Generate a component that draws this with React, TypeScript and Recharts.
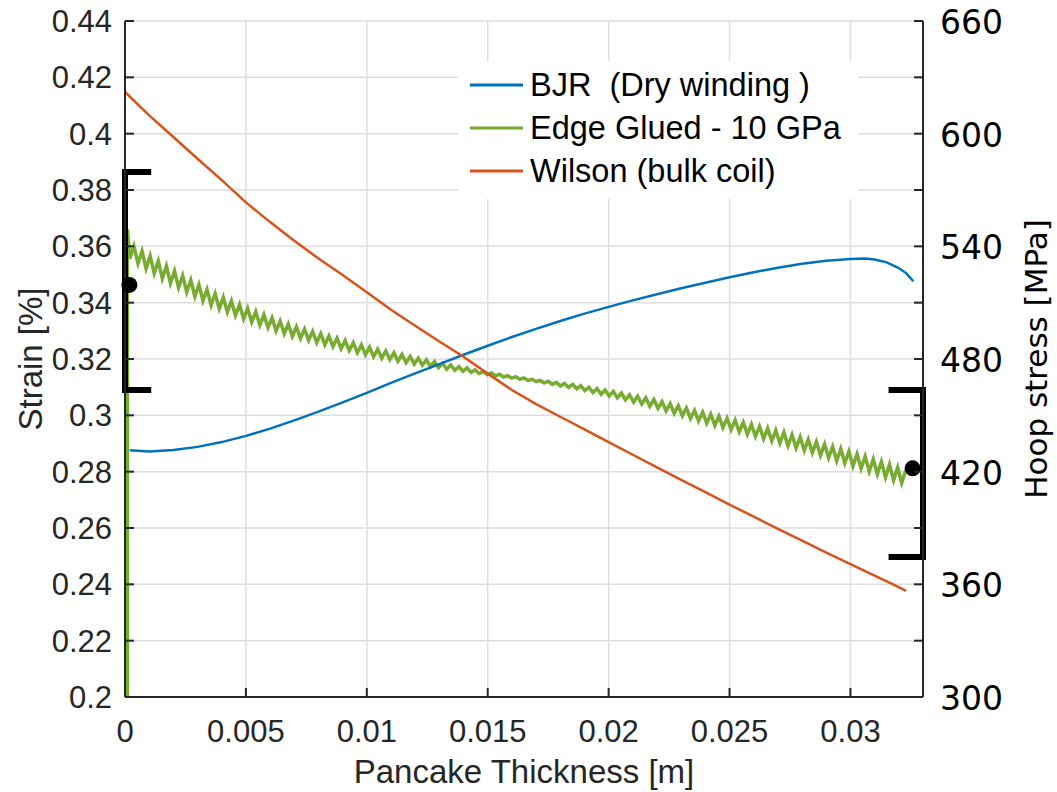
import {
  LineChart, Line, XAxis, YAxis, CartesianGrid, ReferenceLine, ReferenceDot, Legend,
} from 'recharts'

const SANS = '"Liberation Sans", Arial, sans-serif'
const DEJAVU = '"DejaVu Sans", Verdana, sans-serif'
const AXIS = '#262626'
const GRID = '#dedede'
const BLUE = '#0072BD'
const GREEN = '#77AC30'
const ORANGE = '#D95319'

// axes
const X_TICKS = [0, 0.005, 0.01, 0.015, 0.02, 0.025, 0.03]
const STRAIN_TICKS = [0.2, 0.22, 0.24, 0.26, 0.28, 0.3, 0.32, 0.34, 0.36, 0.38, 0.4, 0.42, 0.44]
const STRESS_TICKS = [300, 330, 360, 390, 420, 450, 480, 510, 540, 570, 600, 630, 660]
const STRESS_LABELS = [300, 360, 420, 480, 540, 600, 660]

// BJR (Dry winding)
const BJR_X = [
  0.0002, 0.001, 0.002, 0.003, 0.004, 0.005, 0.006, 0.007, 0.008, 0.009, 0.01,
  0.011, 0.012, 0.013, 0.014, 0.015, 0.016, 0.017, 0.018, 0.019, 0.02,
  0.021, 0.022, 0.023, 0.024, 0.025, 0.026, 0.027, 0.028, 0.029, 0.03,
  0.0306, 0.031, 0.0315, 0.032, 0.0323, 0.0326,
]
const BJR_Y = [
  0.2876, 0.2872, 0.2877, 0.2888, 0.2905, 0.2927, 0.2953, 0.2982, 0.3013, 0.3046, 0.308,
  0.3115, 0.3149, 0.3182, 0.3215, 0.3247, 0.3278, 0.3307, 0.3335, 0.3361, 0.3385,
  0.3408, 0.343, 0.3451, 0.3471, 0.349, 0.3508, 0.3524, 0.3538, 0.3549, 0.3555,
  0.3557, 0.3553, 0.3543, 0.3523, 0.3505, 0.3476,
]

// Wilson (bulk coil)
const WILSON_X = [
  0, 0.001, 0.002, 0.003, 0.004, 0.005, 0.006, 0.007, 0.008, 0.009, 0.01,
  0.011, 0.012, 0.013, 0.014, 0.015, 0.016, 0.017, 0.018, 0.019, 0.02,
  0.021, 0.022, 0.023, 0.024, 0.025, 0.026, 0.027, 0.028, 0.029, 0.03,
  0.031, 0.032, 0.0323,
]
const WILSON_Y = [
  0.4148, 0.4065, 0.3988, 0.3911, 0.3835, 0.3756, 0.3686, 0.362, 0.3557, 0.3498, 0.3437,
  0.3375, 0.3318, 0.3262, 0.3208, 0.3148, 0.309, 0.304, 0.2995, 0.295, 0.2905,
  0.286, 0.2815, 0.2771, 0.2727, 0.2683, 0.264, 0.2597, 0.2555, 0.2513, 0.2472,
  0.2431, 0.239, 0.2377,
]

// Edge Glued - 10 GPa: initial rise, then sampled every GLUED_STEP from GLUED_X0
const GLUED_RISE_X = 0.0001
const GLUED_RISE_Y = [0.2, 0.366]
const GLUED_X0 = 0.0002
const GLUED_STEP = 0.000168
const GLUED_Y = [
  0.3556, 0.3601, 0.3539, 0.3583, 0.3521, 0.3566, 0.3504, 0.3548, 0.3486, 0.353,
  0.3469, 0.3513, 0.3453, 0.3496, 0.3438, 0.348, 0.3422, 0.3464, 0.3407, 0.3447,
  0.3391, 0.3432, 0.3379, 0.3419, 0.3367, 0.3406, 0.3355, 0.3393, 0.3343, 0.338,
  0.3331, 0.3368, 0.3321, 0.3357, 0.3311, 0.3346, 0.33, 0.3335, 0.329, 0.3324,
  0.328, 0.3314, 0.3273, 0.3306, 0.3266, 0.3298, 0.3258, 0.329, 0.3251, 0.3282,
  0.3244, 0.3274, 0.3237, 0.3266, 0.323, 0.3258, 0.3222, 0.325, 0.3215, 0.3242,
  0.3208, 0.3235, 0.3203, 0.3228, 0.3198, 0.3222, 0.3192, 0.3216, 0.3187, 0.3209,
  0.3182, 0.3203, 0.3178, 0.3197, 0.3173, 0.3191, 0.3169, 0.3185, 0.3164, 0.3179,
  0.316, 0.3173, 0.3156, 0.3168, 0.3152, 0.3162, 0.3148, 0.3156, 0.3144, 0.3151,
  0.314, 0.3146, 0.3136, 0.3141, 0.3132, 0.3137, 0.3128, 0.3133, 0.3124, 0.3128,
  0.312, 0.3124, 0.3115, 0.3121, 0.311, 0.3117, 0.3104, 0.3113, 0.3099, 0.311,
  0.3094, 0.3105, 0.3088, 0.31, 0.3081, 0.3095, 0.3075, 0.309, 0.3068, 0.3085,
  0.3062, 0.3079, 0.3055, 0.3073, 0.3047, 0.3068, 0.304, 0.3062, 0.3032, 0.3056,
  0.3025, 0.3049, 0.3016, 0.3041, 0.3007, 0.3034, 0.2998, 0.3026, 0.2989, 0.3018,
  0.298, 0.3011, 0.2972, 0.3004, 0.2964, 0.2997, 0.2957, 0.299, 0.2949, 0.2983,
  0.2941, 0.2975, 0.2933, 0.2968, 0.2925, 0.2961, 0.2917, 0.2954, 0.2909, 0.2947,
  0.2901, 0.2939, 0.2892, 0.2931, 0.2884, 0.2923, 0.2875, 0.2914, 0.2867, 0.2906,
  0.2858, 0.2898, 0.2849, 0.2889, 0.2839, 0.2881, 0.283, 0.2872, 0.282, 0.2863,
  0.2811, 0.2854, 0.2801, 0.2844, 0.2791, 0.2835, 0.278, 0.2825, 0.277, 0.2815,
  0.276, 0.2805,
]

// bracket annotations (strain axis units)
const LEFT_BRACKET = { x: 0, serifX: 0.00096, top: 0.3864, bottom: 0.309, dotX: 0.00018, dotY: 0.3463 }
const RIGHT_BRACKET = { x: 0.033, serifX: 0.0317, top: 0.309, bottom: 0.2497, dotX: 0.03257, dotY: 0.2812 }

const LEGEND_ITEMS = [
  { label: 'BJR  (Dry winding )', color: BLUE },
  { label: 'Edge Glued - 10 GPa', color: GREEN },
  { label: 'Wilson (bulk coil)', color: ORANGE },
]

const bjrData = BJR_X.map((x, i) => ({ x, strain: BJR_Y[i] }))
const wilsonData = WILSON_X.map((x, i) => ({ x, strain: WILSON_Y[i] }))
const gluedData = [
  ...GLUED_RISE_Y.map((s) => ({ x: GLUED_RISE_X, strain: s })),
  ...GLUED_Y.map((s, i) => ({ x: GLUED_X0 + i * GLUED_STEP, strain: s })),
]

const fmtX = (v: number) => String(+v.toFixed(3))
const fmtStrain = (v: number) => String(+v.toFixed(2))

function BottomTick(props: any) {
  const { x, y, payload } = props
  return (
    <g>
      <line x1={x} y1={y} x2={x} y2={y - 9} stroke={AXIS} strokeWidth={2} />
      <text x={x} y={y + 45} textAnchor="middle" fontSize={31} fontFamily={SANS} fill={AXIS}>
        {fmtX(payload.value)}
      </text>
    </g>
  )
}

function TopTick(props: any) {
  const { x, y } = props
  return <line x1={x} y1={y} x2={x} y2={y + 9} stroke={AXIS} strokeWidth={2} />
}

function StrainTick(props: any) {
  const { x, y, payload } = props
  return (
    <g>
      <line x1={x} y1={y} x2={x + 9} y2={y} stroke={AXIS} strokeWidth={2} />
      <text x={x - 13} y={y + 11} textAnchor="end" fontSize={31} fontFamily={SANS} fill={AXIS}>
        {fmtStrain(payload.value)}
      </text>
    </g>
  )
}

function StressTick(props: any) {
  const { x, y, payload } = props
  const show = STRESS_LABELS.includes(payload.value)
  return (
    <g>
      <line x1={x} y1={y} x2={x - 9} y2={y} stroke={AXIS} strokeWidth={2} />
      {show && (
        <text x={x + 17} y={y + 13} textAnchor="start" fontSize={33} fontFamily={DEJAVU} fill="#000">
          {payload.value}
        </text>
      )}
    </g>
  )
}

function RotatedTitle({ cx, cy, text, font, size, color }: any) {
  return (
    <text
      x={cx} y={cy} transform={`rotate(-90 ${cx} ${cy})`}
      textAnchor="middle" dominantBaseline="central"
      fontSize={size} fontFamily={font} fill={color}
    >
      {text}
    </text>
  )
}

function LegendBox() {
  return (
    <svg width={400} height={138} style={{ display: 'block' }}>
      <rect x={0} y={0} width={400} height={138} fill="#fff" />
      {LEGEND_ITEMS.map((item, i) => {
        const cy = 24 + i * 43
        return (
          <g key={item.label}>
            <line x1={12} y1={cy} x2={65} y2={cy} stroke={item.color} strokeWidth={3} />
            <text x={72} y={cy + 11} fontSize={32.5} fontFamily={SANS} fill="#000" style={{ whiteSpace: 'pre' }}>
              {item.label}
            </text>
          </g>
        )
      })}
    </svg>
  )
}

export default function App() {
  return (
    <div style={{ position: 'absolute', left: 0, top: 0, width: 1057, height: 792, background: '#fff' }}>
      <LineChart width={1057} height={792} margin={{ top: 21, right: 0, bottom: 0, left: 0 }}>
        <CartesianGrid yAxisId="left" stroke={GRID} strokeWidth={1.5} />
        <XAxis
          dataKey="x" type="number" domain={[0, 0.033]} ticks={X_TICKS} interval={0}
          allowDataOverflow height={95} tickSize={0} tickMargin={0} tick={<BottomTick />}
          axisLine={{ stroke: AXIS, strokeWidth: 2 }} tickLine={false}
          label={(p: any) => {
            const vb = p.viewBox || { x: 125, y: 697, width: 798 }
            return (
              <text x={vb.x + vb.width / 2} y={vb.y + 86} textAnchor="middle" fontSize={33} fontFamily={SANS} fill={AXIS}>
                Pancake Thickness [m]
              </text>
            )
          }}
        />
        <XAxis
          xAxisId="top" orientation="top" dataKey="x" type="number" domain={[0, 0.033]}
          ticks={X_TICKS} interval={0} allowDataOverflow height={0} tickSize={0} tickMargin={0}
          tick={<TopTick />} axisLine={{ stroke: AXIS, strokeWidth: 2 }} tickLine={false}
        />
        <YAxis
          yAxisId="left" type="number" domain={[0.2, 0.44]} ticks={STRAIN_TICKS} interval={0}
          allowDataOverflow width={125} tickSize={0} tickMargin={0} tick={<StrainTick />}
          axisLine={{ stroke: AXIS, strokeWidth: 2 }} tickLine={false}
          label={(p: any) => {
            const vb = p.viewBox || { x: 0, y: 21, height: 676 }
            return <RotatedTitle cx={vb.x + 30} cy={vb.y + vb.height / 2} text="Strain [%]" font={SANS} size={33} color={AXIS} />
          }}
        />
        <YAxis
          yAxisId="right" orientation="right" type="number" domain={[300, 660]} ticks={STRESS_TICKS}
          interval={0} allowDataOverflow width={134} tickSize={0} tickMargin={0} tick={<StressTick />}
          axisLine={{ stroke: AXIS, strokeWidth: 2 }} tickLine={false}
          label={(p: any) => {
            const vb = p.viewBox || { x: 923, y: 21, height: 676 }
            return <RotatedTitle cx={vb.x + 113} cy={vb.y + vb.height / 2} text="Hoop stress [MPa]" font={DEJAVU} size={31} color="#000" />
          }}
        />
        <Legend
          layout="vertical" align="center" verticalAlign="middle"
          wrapperStyle={{ position: 'absolute', left: 458, top: 61, width: 400, height: 138 }}
          content={() => <LegendBox />}
        />
        <Line
          yAxisId="left" data={gluedData} dataKey="strain" type="linear" stroke={GREEN}
          strokeWidth={3.5} dot={false} isAnimationActive={false}
        />
        <Line
          yAxisId="left" data={bjrData} dataKey="strain" type="linear" stroke={BLUE}
          strokeWidth={2.5} dot={false} isAnimationActive={false}
        />
        <Line
          yAxisId="left" data={wilsonData} dataKey="strain" type="linear" stroke={ORANGE}
          strokeWidth={2.5} dot={false} isAnimationActive={false}
        />
        {/* left bracket */}
        <ReferenceLine yAxisId="left" ifOverflow="visible" stroke="#000" strokeWidth={6} strokeLinecap="square"
          segment={[{ x: LEFT_BRACKET.x, y: LEFT_BRACKET.top }, { x: LEFT_BRACKET.x, y: LEFT_BRACKET.bottom }]} />
        <ReferenceLine yAxisId="left" ifOverflow="visible" stroke="#000" strokeWidth={6} strokeLinecap="square"
          segment={[{ x: LEFT_BRACKET.x, y: LEFT_BRACKET.top }, { x: LEFT_BRACKET.serifX, y: LEFT_BRACKET.top }]} />
        <ReferenceLine yAxisId="left" ifOverflow="visible" stroke="#000" strokeWidth={6} strokeLinecap="square"
          segment={[{ x: LEFT_BRACKET.x, y: LEFT_BRACKET.bottom }, { x: LEFT_BRACKET.serifX, y: LEFT_BRACKET.bottom }]} />
        <ReferenceDot yAxisId="left" ifOverflow="visible" x={LEFT_BRACKET.dotX} y={LEFT_BRACKET.dotY} r={8} fill="#000" stroke="none" />
        {/* right bracket */}
        <ReferenceLine yAxisId="left" ifOverflow="visible" stroke="#000" strokeWidth={6} strokeLinecap="square"
          segment={[{ x: RIGHT_BRACKET.x, y: RIGHT_BRACKET.top }, { x: RIGHT_BRACKET.x, y: RIGHT_BRACKET.bottom }]} />
        <ReferenceLine yAxisId="left" ifOverflow="visible" stroke="#000" strokeWidth={6} strokeLinecap="square"
          segment={[{ x: RIGHT_BRACKET.serifX, y: RIGHT_BRACKET.top }, { x: RIGHT_BRACKET.x, y: RIGHT_BRACKET.top }]} />
        <ReferenceLine yAxisId="left" ifOverflow="visible" stroke="#000" strokeWidth={6} strokeLinecap="square"
          segment={[{ x: RIGHT_BRACKET.serifX, y: RIGHT_BRACKET.bottom }, { x: RIGHT_BRACKET.x, y: RIGHT_BRACKET.bottom }]} />
        <ReferenceDot yAxisId="left" ifOverflow="visible" x={RIGHT_BRACKET.dotX} y={RIGHT_BRACKET.dotY} r={8} fill="#000" stroke="none" />
      </LineChart>
    </div>
  )
}
